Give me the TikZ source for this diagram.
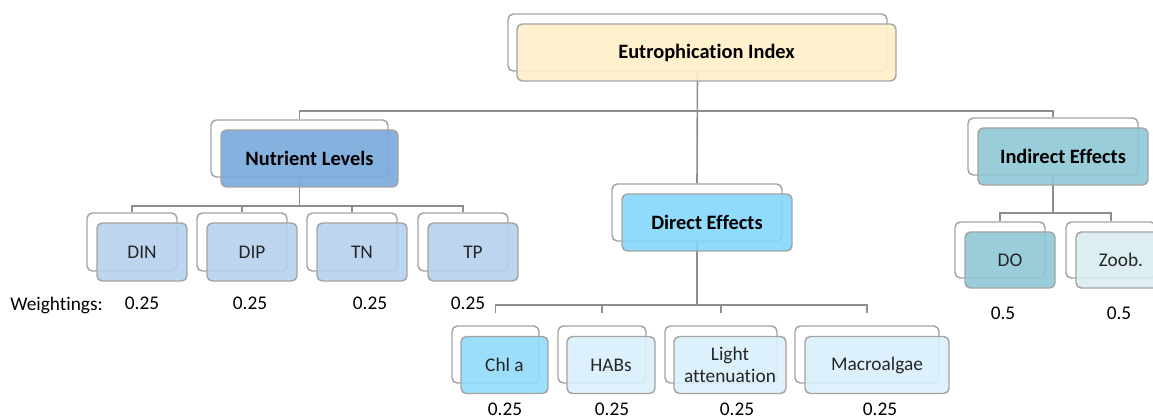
\documentclass[tikz,border=0pt]{standalone}
\usepackage{fontspec}
\setmainfont{Carlito}[Ligatures=NoCommon]
\definecolor{framegray}{HTML}{A3A3A3}
\definecolor{linkgray}{HTML}{8E8E8E}
\definecolor{textdark}{HTML}{262626}
\definecolor{topfill}{HTML}{FFF0C8}
\definecolor{nutfill}{HTML}{78A9DC}
\definecolor{nutleaf}{HTML}{B6D1EE}
\definecolor{dirfill}{HTML}{84D6FC}
\definecolor{chlfill}{HTML}{92DBFA}
\definecolor{dirleaf}{HTML}{DAF0FC}
\definecolor{indfill}{HTML}{8EC8D7}
\definecolor{zoofill}{HTML}{DAEDF2}
\begin{document}
\begin{tikzpicture}[x=0.75pt,y=-0.75pt,
  backbox/.style={draw=framegray, line width=1.1pt, rounded corners=4pt, fill=white, inner sep=0pt},
  frontbox/.style={draw=framegray, line width=1.1pt, rounded corners=4pt, fill=#1,
    fill opacity=0.9, text opacity=1, inner sep=0pt, align=center, text=textdark,
    font=\fontsize{14.5}{16}\selectfont},
  headbox/.style={frontbox=#1, font=\fontsize{15.3}{17}\selectfont\bfseries, text=black},
  sz/.style 2 args={minimum width=#1*0.75pt, minimum height=#2*0.75pt},
  link/.style={draw=linkgray, line width=1.2pt},
  weight/.style={font=\fontsize{14.5}{16}\selectfont, text=black, inner sep=0pt}]
\useasboundingbox (0,0) rectangle (1153,420);
\clip (0,0) rectangle (1153,420);

% back frames
\node[backbox, sz={379}{57}] (topb) at (697.5,42.5) {};
\node[backbox, sz={177}{57}] (nutb) at (299.5,148.5) {};
\node[backbox, sz={170}{57}] (dirb) at (697,212.5) {};
\node[backbox, sz={170}{57}] (indb) at (1053,146.5) {};
\node[backbox, sz={90}{58}] (dinb) at (132,242) {};
\node[backbox, sz={90}{58}] (dipb) at (242,242) {};
\node[backbox, sz={90}{58}] (tnb) at (352,242) {};
\node[backbox, sz={90}{58}] (tpb) at (463,242) {};
\node[backbox, sz={87}{57}] (chlb) at (495.5,354.5) {};
\node[backbox, sz={88}{57}] (habb) at (602,354.5) {};
\node[backbox, sz={112}{57}] (ligb) at (721,354.5) {};
\node[backbox, sz={144}{57}] (macb) at (867,354.5) {};
\node[backbox, sz={90}{56}] (dob) at (1000,250) {};
\node[backbox, sz={90}{56}] (zoob) at (1111,250) {};

% bar levels
\coordinate (mainbar) at (0,111);
\coordinate (nbar) at (0,206);
\coordinate (dbar) at (0,305);
\coordinate (ibar) at (0,213);
\coordinate (chlend) at (495.5,313);
\coordinate (habend) at (602,313);
\coordinate (ligend) at (721,313);
\coordinate (macend) at (867,313);

% connectors
\draw[link] (topb.south) -- (dirb.north);
\draw[link] (nutb.north) |- (indb.north |- mainbar) -- (indb.north);

\draw[link] (nutb.south) -- (nutb.south |- nbar);
\draw[link] (dinb.north) |- (tpb.north |- nbar) -- (tpb.north);
\draw[link] (dipb.north) -- (dipb.north |- nbar);
\draw[link] (tnb.north) -- (tnb.north |- nbar);

\draw[link] (dirb.south) -- (dirb.south |- dbar);
\draw[link] (chlend) |- (macend |- dbar) -- (macend);
\draw[link] (habend) -- (habend |- dbar);
\draw[link] (ligend) -- (ligend |- dbar);

\draw[link] (indb.south) -- (indb.south |- ibar);
\draw[link] (dob.north) |- (zoob.north |- ibar) -- (zoob.north);

% front boxes
\node[headbox=topfill, sz={379}{57}] (top) at (706.5,52.5) {Eutrophication Index};
\node[headbox=nutfill, sz={177}{57}] (nut) at (309.5,158.5) {Nutrient Levels};
\node[headbox=dirfill, sz={170}{57}] (dir) at (707,222.5) {Direct Effects};
\node[headbox=indfill, sz={170}{57}] (ind) at (1063,156.5) {Indirect Effects};
\node[frontbox=nutleaf, sz={90}{58}] (din) at (142,252) {DIN};
\node[frontbox=nutleaf, sz={90}{58}] (dip) at (252,252) {DIP};
\node[frontbox=nutleaf, sz={90}{58}] (tn) at (362,252) {TN};
\node[frontbox=nutleaf, sz={90}{58}] (tp) at (473,252) {TP};
\node[frontbox=chlfill, sz={87}{57}] (chl) at (504.5,365) {Chl a};
\node[frontbox=dirleaf, sz={88}{57}] (hab) at (611,365) {HABs};
\node[frontbox=dirleaf, sz={112}{57}] (lig) at (730,365) {Light\\attenuation};
\node[frontbox=dirleaf, sz={144}{57}] (mac) at (877,365) {Macroalgae};
\node[frontbox=indfill, sz={90}{56}] (do) at (1010,260) {DO};
\node[frontbox=zoofill, sz={90}{56}] (zoo) at (1121,260) {Zoob.};

% weightings
\node[weight, anchor=west] (wlab) at (10,305) {Weightings:};
\node[weight] (wdin) at (142,303) {0.25};
\node[weight] (wdip) at (250,303) {0.25};
\node[weight] (wtn) at (370,303) {0.25};
\node[weight] (wtp) at (468,303) {0.25};
\node[weight] (wchl) at (505,409) {0.25};
\node[weight] (whab) at (612,409) {0.25};
\node[weight] (wlig) at (737,409) {0.25};
\node[weight] (wmac) at (880,409) {0.25};
\node[weight] (wdo) at (1003,313) {0.5};
\node[weight] (wzoo) at (1119,313) {0.5};
\end{tikzpicture}
\end{document}
